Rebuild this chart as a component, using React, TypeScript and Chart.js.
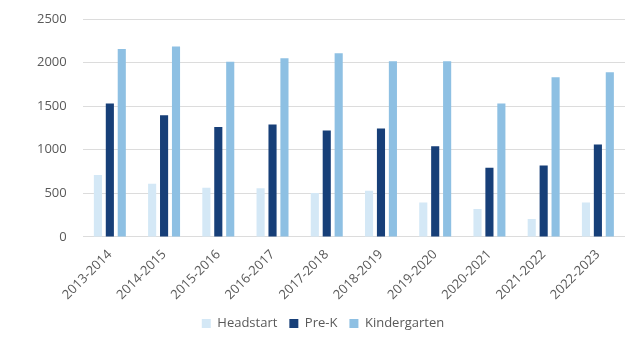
import React, { useEffect, useRef } from "react";
import { Chart, registerables } from "chart.js";

Chart.register(...registerables);

const categories = ["2013-2014", "2014-2015", "2015-2016", "2016-2017", "2017-2018", "2018-2019", "2019-2020", "2020-2021", "2021-2022", "2022-2023"];
const headstart = [710, 610, 565, 560, 505, 530, 395, 320, 205, 395];
const preK = [1530, 1395, 1260, 1290, 1220, 1245, 1040, 795, 820, 1060];
const kindergarten = [2157, 2184, 2010, 2050, 2108, 2016, 2016, 1532, 1832, 1890];
const yTicks = [0, 500, 1000, 1500, 2000, 2500];

export default function App() {
  const ref = useRef<HTMLCanvasElement>(null);
  useEffect(() => {
    if (!ref.current) return;
    const font = { family: "'Open Sans', sans-serif", size: 13 };
    const chart = new Chart(ref.current, {
      type: "bar",
      data: {
        labels: categories,
        datasets: [
          { label: "Headstart", data: headstart, backgroundColor: "#d4e8f6" },
          { label: "Pre-K", data: preK, backgroundColor: "#173f78" },
          { label: "Kindergarten", data: kindergarten, backgroundColor: "#8ec0e3" },
        ],
      },
      options: {
        animation: false,
        responsive: false,
        maintainAspectRatio: false,
        layout: { padding: { left: 21, right: 6, top: 19, bottom: 12 } },
        datasets: { bar: { categoryPercentage: 0.66, barPercentage: 0.68 } },
        scales: {
          x: {
            grid: { display: false },
            border: { display: false },
            ticks: { font, color: "#595959", minRotation: 45, maxRotation: 45, padding: 2 },
          },
          y: {
            min: 0,
            max: 2500,
            afterBuildTicks: (axis: any) => {
              axis.ticks = yTicks.map((v) => ({ value: v }));
            },
            afterFit: (axis: any) => {
              axis.paddingTop = 0;
            },
            grid: { color: "#dcdcdc", drawTicks: false },
            border: { display: false },
            ticks: { font, color: "#595959", padding: 16, callback: (v: any) => String(v) },
          },
        },
        plugins: {
          legend: {
            position: "bottom",
            labels: { font, color: "#595959", boxWidth: 9, boxHeight: 9, padding: 12 },
          },
          tooltip: { enabled: false },
        },
      },
    });
    return () => chart.destroy();
  }, []);
  return (
    <div style={{ position: "fixed", left: 0, top: 0, width: 631, height: 352, background: "#fff" }}>
      <canvas ref={ref} width={631} height={352} />
    </div>
  );
}
